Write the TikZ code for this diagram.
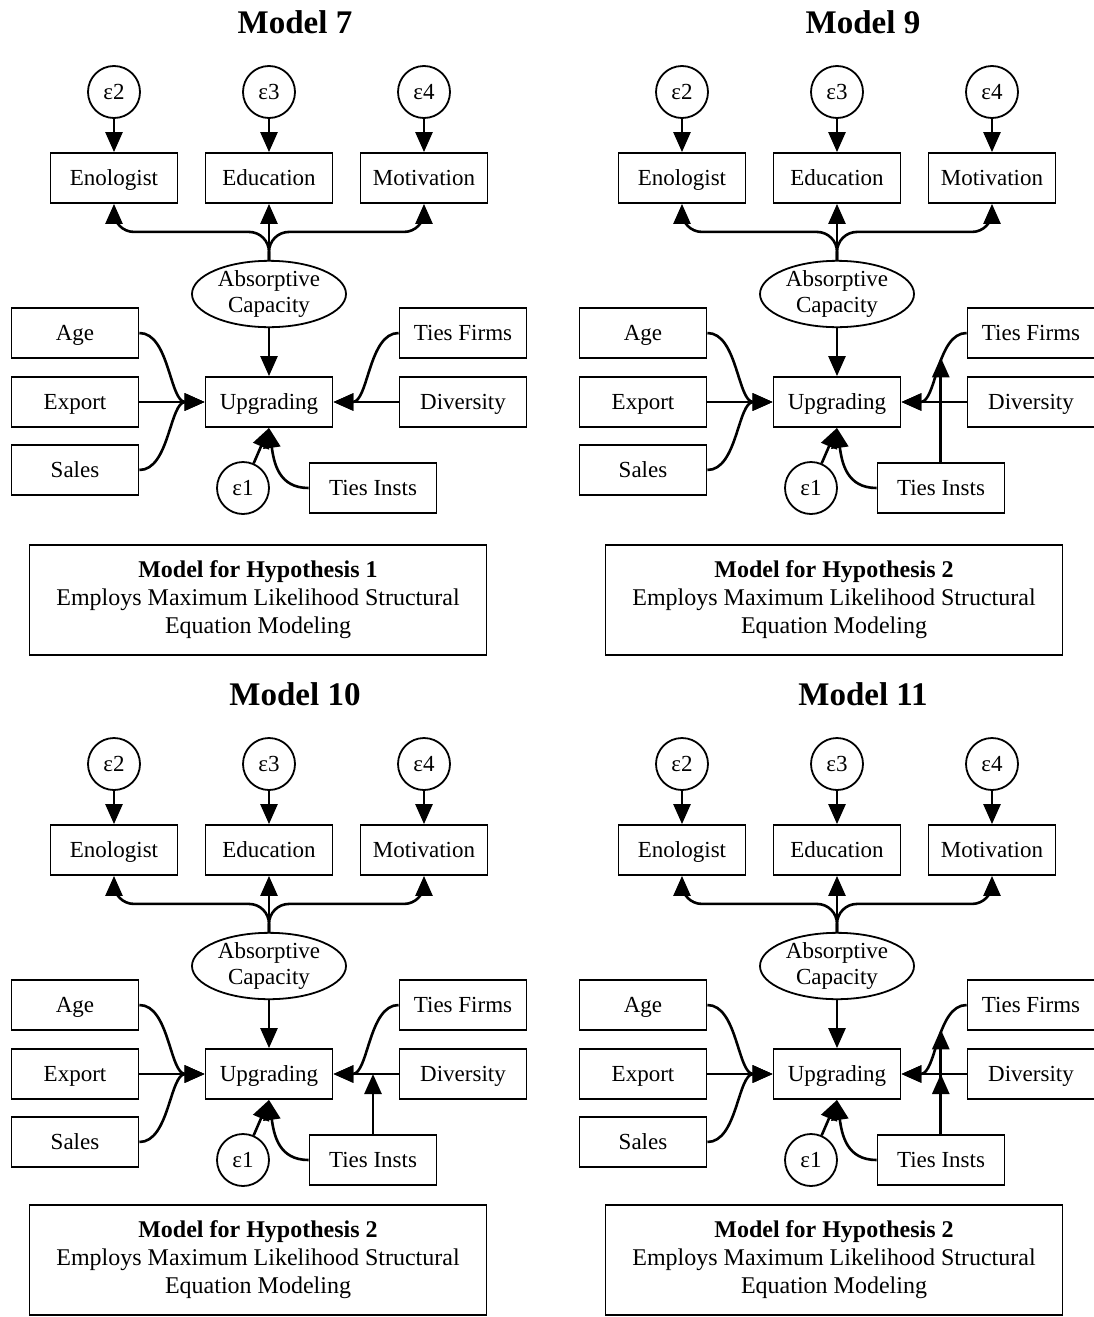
\documentclass[tikz,border=0pt]{standalone}
\usepackage{fontspec}
\setmainfont{Liberation Serif}
\usepackage{tikz}
\usetikzlibrary{shapes.geometric}
\usetikzlibrary{arrows.meta}

\begin{document}
\begin{tikzpicture}[x=1pt, y=-1pt]
\tikzstyle{box}     = [rectangle, draw, line width=1.8pt, minimum width=127pt, minimum height=50pt, inner sep=0pt, text height=15pt, text depth=0pt, font=\fontsize{23}{27}\selectfont]
\tikzstyle{err}     = [circle, draw, line width=1.8pt, minimum size=52pt, inner sep=0pt, text height=15pt, text depth=0pt, font=\fontsize{23}{27}\selectfont]
\tikzstyle{latent}  = [ellipse, draw, line width=1.8pt, minimum width=154pt, minimum height=60pt, inner sep=0pt, align=center, font=\fontsize{23}{26}\selectfont]
\tikzstyle{caption} = [rectangle, draw, line width=1.8pt, minimum width=457pt, minimum height=110pt, align=center, font=\fontsize{24}{28}\selectfont]
\tikzstyle{title}   = [font=\fontsize{33}{40}\selectfont\bfseries]
\tikzstyle{arr}     = [line width=2.6pt, -{Triangle[length=20pt,width=17pt]}]
\useasboundingbox (0,0) rectangle (1094,1317);

\foreach \m/\dx/\dy/\hyp/\cx/\cy in {7/0/0/1/258/600, 9/568/0/2/834/600, 10/0/672/2/258/1260, 11/568/672/2/834/1260}{
\begin{scope}[shift={(\dx,\dy)}]
\node [title](t\m) at (295, 22) {Model \m};
\node [err](e2\m) at (114, 92) {ε2};
\node [err](e3\m) at (269, 92) {ε3};
\node [err](e4\m) at (424, 92) {ε4};
\node [box](enol\m) at (114, 178) {Enologist};
\node [box](edu\m) at (269, 178) {Education};
\node [box](mot\m) at (424, 178) {Motivation};
\node [latent](ac\m) at (269, 294) {Absorptive\\Capacity};
\node [box](age\m) at (75, 333) {Age};
\node [box](exp\m) at (75, 402) {Export};
\node [box](sal\m) at (75, 470) {Sales};
\node [box](upg\m) at (269, 402) {Upgrading};
\node [box](tf\m) at (463, 333) {Ties Firms};
\node [box](dv\m) at (463, 402) {Diversity};
\node [box](ti\m) at (373, 488) {Ties Insts};
\node [err](e1\m) at (243, 488) {ε1};
 %%Edges
\draw[arr] (e2\m)--(enol\m);
\draw[arr] (e3\m)--(edu\m);
\draw[arr] (e4\m)--(mot\m);
\draw[arr, rounded corners=20pt] (ac\m.north) -- ++(0,-28) -| (enol\m.south);
\draw[arr] (ac\m.north)--(edu\m.south);
\draw[arr, rounded corners=20pt] (ac\m.north) -- ++(0,-28) -| (mot\m.south);
\draw[arr] (ac\m)--(upg\m);
\draw[arr] (age\m.east) .. controls +(30,0) and +(-35,0) .. (upg\m.west);
\draw[arr] (exp\m)--(upg\m);
\draw[arr] (sal\m.east) .. controls +(30,0) and +(-35,0) .. (upg\m.west);
\draw[arr] (tf\m.west) .. controls +(-30,0) and +(35,0) .. (upg\m.east) coordinate[pos=0.4](tfm\m);
\draw[arr] (dv\m)--(upg\m);
\draw[arr] (e1\m)--(upg\m.south);
\draw[arr] (ti\m.west) .. controls +(-30,0) and +(5,35) .. (upg\m.south);
\end{scope}
\node [caption](cap\m) at (\cx, \cy) {\textbf{Model for Hypothesis \hyp}\\Employs Maximum Likelihood Structural\\Equation Modeling};
}

 %%Moderation by Ties Insts
\draw[arr] (ti9.north -| tfm9)--(tfm9);
\draw[arr] (ti10.north)--(ti10.north |- dv10.west);
\draw[arr] (ti11.north -| tfm11)--(tfm11 |- dv11.west);
\draw[arr] (ti11.north -| tfm11)--(tfm11);
\end{tikzpicture}
\end{document}
